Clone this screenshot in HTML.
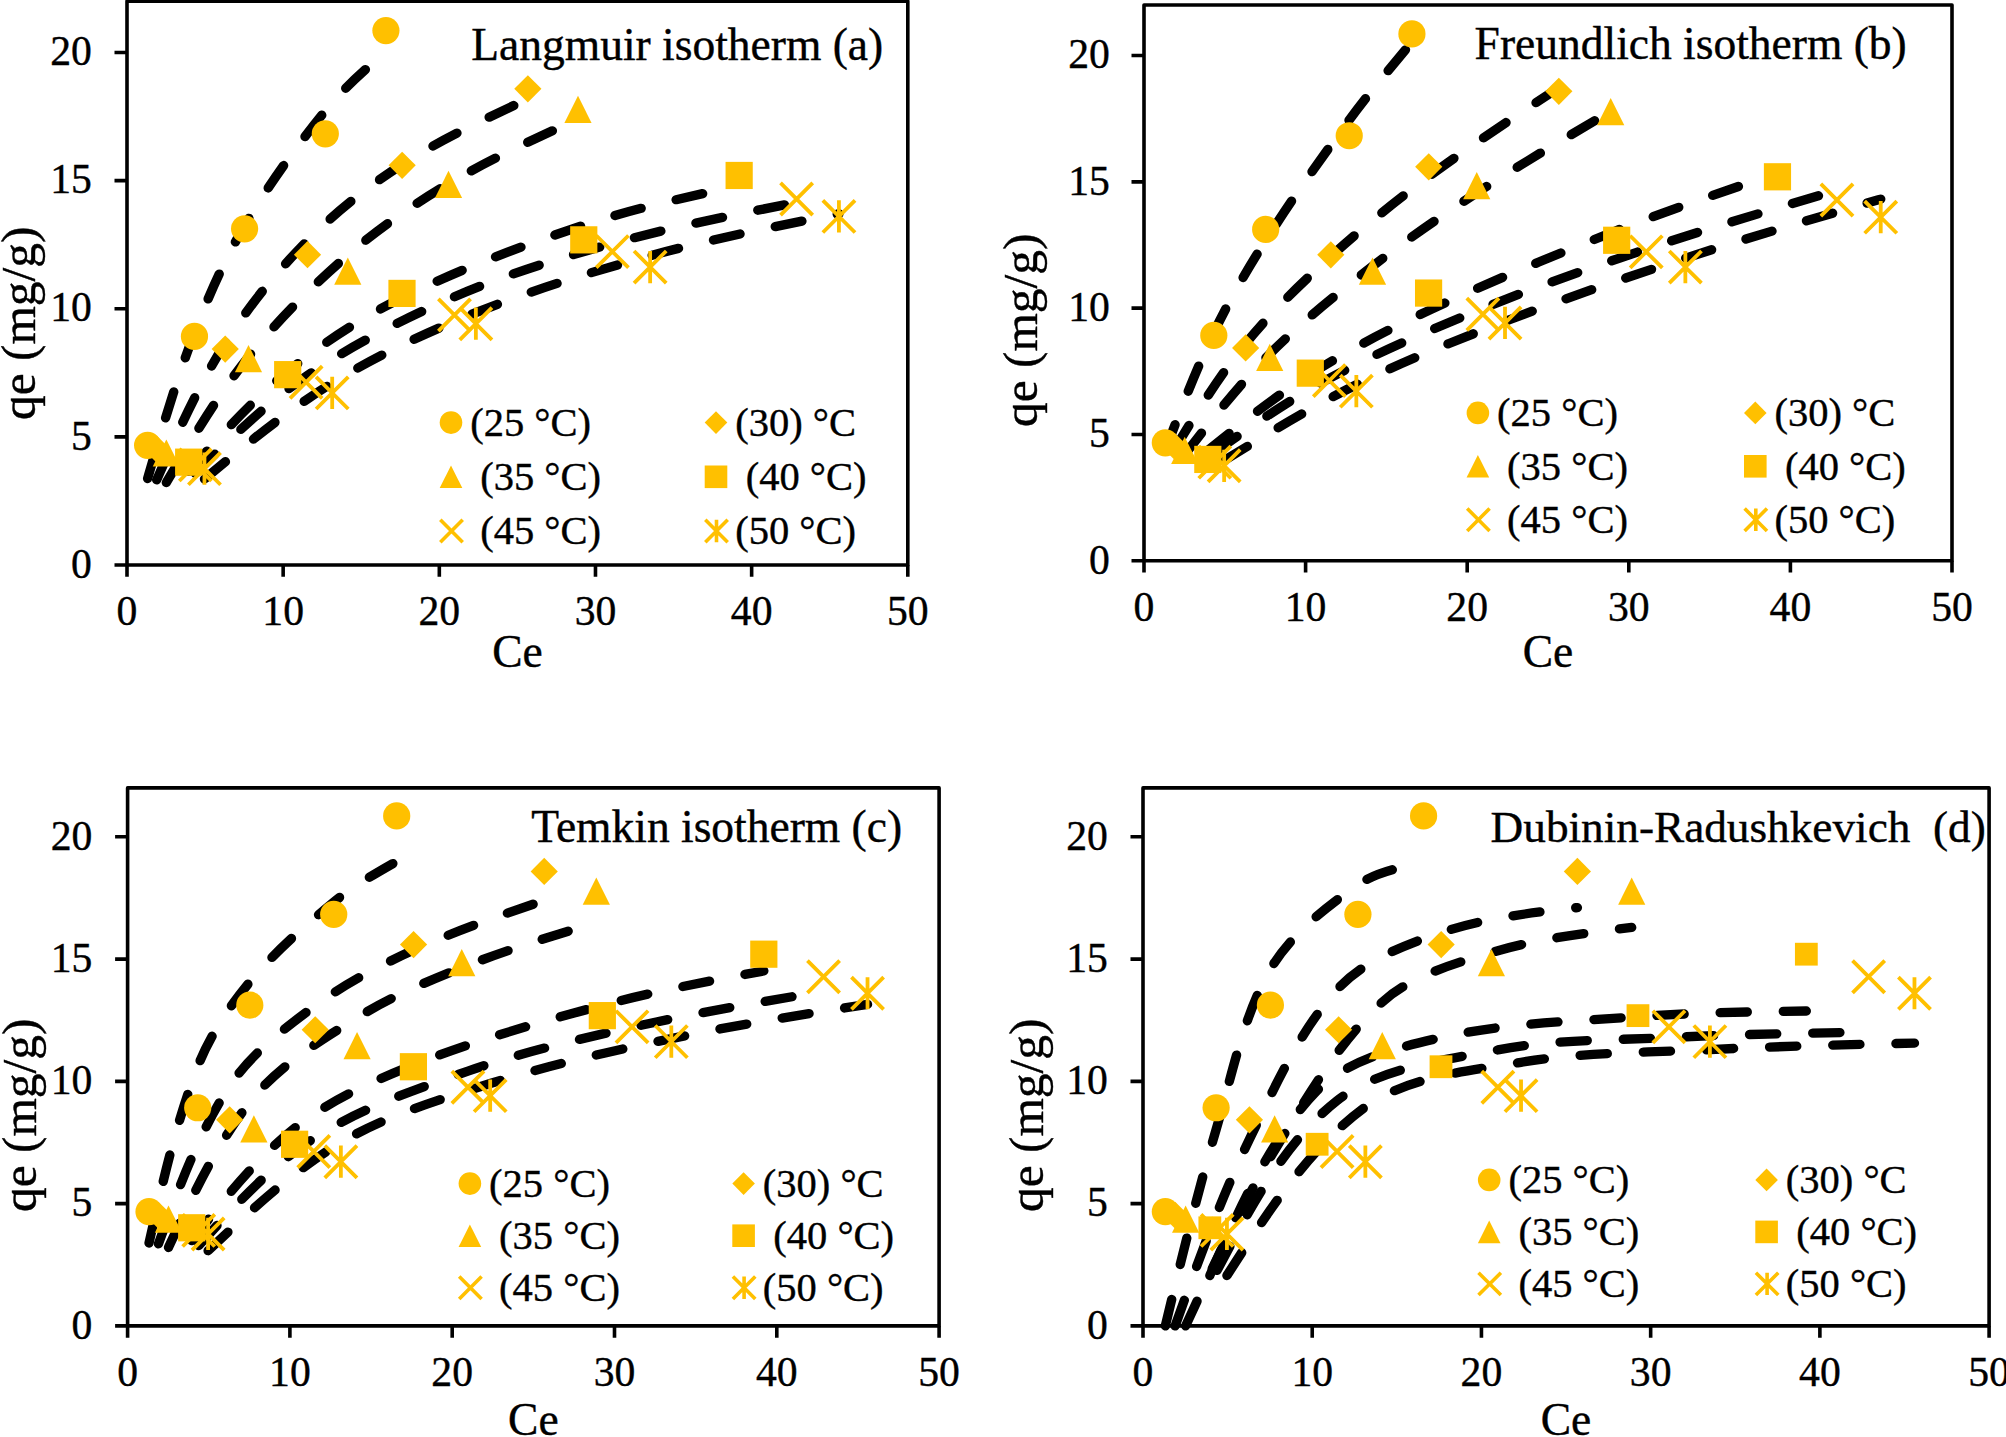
<!DOCTYPE html>
<html><head><meta charset="utf-8"><title>Adsorption isotherms</title>
<style>html,body{margin:0;padding:0;background:#fff}svg{display:block}text{font-family:"Liberation Serif","Times New Roman",serif;fill:#000;stroke:#000;stroke-width:0.4px}</style>
</head><body>
<svg width="2006" height="1437" viewBox="0 0 2006 1437">
<rect width="2006" height="1437" fill="#fff"/>
<g id="panel-a">
<g fill="none" stroke="#000" stroke-width="9.35" stroke-linecap="round" stroke-linejoin="round" stroke-dasharray="27.2 36.0">
<path d="M147.61 478.49C161.92 429.42 176.23 380.34 194.46 332.81C208.56 296.06 224.64 259.48 244.59 225.63C268.26 185.46 295.95 146.94 325.32 110.74C343.05 88.90 364.48 70.20 385.91 51.49"/>
<path d="M156.67 479.82C177.44 432.94 198.20 386.07 225.22 343.21C248.49 306.31 276.85 271.53 307.52 240.53C335.83 211.93 368.26 186.18 402.15 164.41C441.70 139.01 484.78 119.01 527.86 99.01"/>
<path d="M166.35 482.53C191.89 439.17 217.43 395.81 248.49 356.88C277.91 320.02 312.12 286.05 347.81 255.16C378.80 228.34 413.21 204.64 448.53 183.76C489.94 159.29 533.96 139.19 577.99 119.10"/>
<path d="M188.68 471.42C220.12 436.21 251.56 401.00 287.69 371.58C322.66 343.11 361.52 317.77 402.00 297.75C460.21 268.97 522.01 245.78 583.77 225.19C633.61 208.58 685.21 197.36 736.80 186.15"/>
<path d="M195.40 473.37C230.61 438.56 265.82 403.76 306.12 376.29C352.18 344.89 403.17 318.99 454.47 296.76C505.24 274.75 558.88 258.28 612.35 243.55C672.93 226.86 734.77 214.68 796.61 202.51"/>
<path d="M204.46 479.01C245.72 444.87 286.98 410.72 332.19 383.01C377.45 355.27 426.48 332.42 475.86 312.66C532.46 290.02 591.25 271.83 650.14 255.79C712.27 238.87 775.60 226.32 838.93 213.77"/>
</g>
<g fill="#FFC000">
<path d="M188.36 452.54L220.56 484.74M188.36 484.74L220.56 452.54M204.46 452.54L204.46 484.74" fill="none" stroke="#FFC000" stroke-width="3.80"/>
<path d="M316.09 376.81L348.29 409.01M316.09 409.01L348.29 376.81M332.19 376.81L332.19 409.01" fill="none" stroke="#FFC000" stroke-width="3.80"/>
<path d="M459.76 307.62L491.96 339.82M459.76 339.82L491.96 307.62M475.86 307.62L475.86 339.82" fill="none" stroke="#FFC000" stroke-width="3.80"/>
<path d="M634.04 250.98L666.24 283.18M634.04 283.18L666.24 250.98M650.14 250.98L650.14 283.18" fill="none" stroke="#FFC000" stroke-width="3.80"/>
<path d="M822.83 200.31L855.03 232.51M822.83 232.51L855.03 200.31M838.93 200.31L838.93 232.51" fill="none" stroke="#FFC000" stroke-width="3.80"/>
<path d="M179.30 448.83L211.50 481.03M179.30 481.03L211.50 448.83" fill="none" stroke="#FFC000" stroke-width="3.80"/>
<path d="M290.02 366.11L322.22 398.31M290.02 398.31L322.22 366.11" fill="none" stroke="#FFC000" stroke-width="3.80"/>
<path d="M438.37 298.84L470.57 331.04M438.37 331.04L470.57 298.84" fill="none" stroke="#FFC000" stroke-width="3.80"/>
<path d="M596.25 235.48L628.45 267.68M596.25 267.68L628.45 235.48" fill="none" stroke="#FFC000" stroke-width="3.80"/>
<path d="M780.51 182.94L812.71 215.14M780.51 215.14L812.71 182.94" fill="none" stroke="#FFC000" stroke-width="3.80"/>
<rect x="175.08" y="448.57" width="27.20" height="27.20"/>
<rect x="274.09" y="361.05" width="27.20" height="27.20"/>
<rect x="388.40" y="279.81" width="27.20" height="27.20"/>
<rect x="570.17" y="226.25" width="27.20" height="27.20"/>
<rect x="725.55" y="161.87" width="27.20" height="27.20"/>
<path d="M166.35 439.41L179.95 466.61L152.75 466.61Z"/>
<path d="M248.49 344.97L262.09 372.17L234.89 372.17Z"/>
<path d="M347.81 257.58L361.41 284.78L334.21 284.78Z"/>
<path d="M448.53 170.77L462.13 197.97L434.93 197.97Z"/>
<path d="M577.99 95.75L591.59 122.95L564.39 122.95Z"/>
<path d="M156.67 435.44L170.27 449.04L156.67 462.64L143.07 449.04Z"/>
<path d="M225.22 335.43L238.82 349.03L225.22 362.63L211.62 349.03Z"/>
<path d="M307.52 241.05L321.12 254.65L307.52 268.25L293.92 254.65Z"/>
<path d="M402.15 151.74L415.75 165.34L402.15 178.94L388.55 165.34Z"/>
<path d="M527.86 75.18L541.46 88.78L527.86 102.38L514.26 88.78Z"/>
<circle cx="147.61" cy="445.32" r="13.60"/>
<circle cx="194.46" cy="336.40" r="13.60"/>
<circle cx="244.59" cy="228.83" r="13.60"/>
<circle cx="325.32" cy="133.82" r="13.60"/>
<circle cx="385.91" cy="30.54" r="13.60"/>
</g>
<rect x="127.00" y="1.20" width="780.80" height="563.80" fill="none" stroke="#000" stroke-width="3.60" stroke-linejoin="round"/>
<path d="M114.50 565.00H127.00M114.50 436.86H127.00M114.50 308.73H127.00M114.50 180.59H127.00M114.50 52.45H127.00M127.00 565.00V576.80M283.16 565.00V576.80M439.32 565.00V576.80M595.48 565.00V576.80M751.64 565.00V576.80M907.80 565.00V576.80" fill="none" stroke="#000" stroke-width="3.60"/>
<g font-size="41.67" text-anchor="end">
<text x="91.80" y="577.70">0</text>
<text x="91.80" y="449.56">5</text>
<text x="91.80" y="321.43">10</text>
<text x="91.80" y="193.29">15</text>
<text x="91.80" y="65.15">20</text>
</g><g font-size="41.67" text-anchor="middle">
<text x="127.00" y="625.20">0</text>
<text x="283.16" y="625.20">10</text>
<text x="439.32" y="625.20">20</text>
<text x="595.48" y="625.20">30</text>
<text x="751.64" y="625.20">40</text>
<text x="907.80" y="625.20">50</text>
</g>
<text x="517.40" y="666.60" font-size="45.50" text-anchor="middle">Ce</text>
<text transform="translate(35.00 420.00) rotate(-90)" font-size="49.40">qe (mg/g)</text>
<text x="471.30" y="60.00" font-size="45.50" style="white-space:pre">Langmuir isotherm (a)</text>
<g fill="#FFC000">
<circle cx="451.00" cy="422.60" r="11.30"/>
<path d="M716.00 411.30L727.30 422.60L716.00 433.90L704.70 422.60Z"/>
<path d="M451.00 465.50L462.30 488.10L439.70 488.10Z"/>
<rect x="704.70" y="465.50" width="22.60" height="22.60"/>
<path d="M440.30 519.80L462.70 542.20M440.30 542.20L462.70 519.80" fill="none" stroke="#FFC000" stroke-width="3.60"/>
<path d="M705.30 519.80L727.70 542.20M705.30 542.20L727.70 519.80M716.50 519.80L716.50 542.20" fill="none" stroke="#FFC000" stroke-width="3.60"/>
</g><g font-size="40.50">
<text x="470.20" y="435.80">(25 °C)</text>
<text x="735.20" y="435.80">(30) °C</text>
<text x="480.20" y="490.00">(35 °C)</text>
<text x="745.70" y="490.00">(40 °C)</text>
<text x="480.20" y="544.20">(45 °C)</text>
<text x="735.20" y="544.20">(50 °C)</text>
</g></g>
<g id="panel-b">
<g fill="none" stroke="#000" stroke-width="9.35" stroke-linecap="round" stroke-linejoin="round" stroke-dasharray="27.2 36.0">
<path d="M1165.33 450.16C1180.44 410.47 1195.55 370.78 1213.81 332.62C1229.00 300.88 1246.77 270.17 1265.68 240.47C1291.91 199.31 1320.25 159.35 1349.23 120.05C1369.00 93.24 1390.47 67.69 1411.93 42.14"/>
<path d="M1174.70 448.70C1196.89 412.43 1219.09 376.16 1245.65 343.45C1271.12 312.08 1300.87 283.75 1330.81 256.46C1361.90 228.13 1394.91 201.61 1428.74 176.56C1470.91 145.34 1514.87 116.50 1558.83 87.66"/>
<path d="M1184.72 454.64C1211.77 419.80 1238.82 384.96 1269.72 353.96C1301.41 322.16 1336.99 293.87 1372.50 266.24C1406.00 240.17 1441.14 216.03 1476.73 192.88C1520.54 164.39 1565.62 137.86 1610.70 111.33"/>
<path d="M1207.83 450.32C1241.14 423.65 1274.45 396.98 1310.29 374.30C1348.03 350.41 1388.07 329.60 1428.58 310.61C1490.20 281.70 1553.31 255.55 1616.68 230.60C1669.60 209.76 1723.54 191.51 1777.47 173.26"/>
<path d="M1214.78 451.99C1252.10 425.85 1289.43 399.70 1329.36 378.33C1378.79 351.86 1430.86 329.70 1482.88 308.49C1536.49 286.63 1591.31 267.46 1646.25 249.12C1709.33 228.06 1773.13 209.19 1836.94 190.31"/>
<path d="M1224.15 460.60C1267.53 433.92 1310.90 407.24 1356.34 384.72C1404.52 360.85 1454.77 340.75 1505.01 321.43C1564.44 298.57 1624.80 277.90 1685.36 258.19C1750.04 237.13 1815.39 218.13 1880.73 199.12"/>
</g>
<g fill="#FFC000">
<path d="M1208.05 449.71L1240.25 481.91M1208.05 481.91L1240.25 449.71M1224.15 449.71L1224.15 481.91" fill="none" stroke="#FFC000" stroke-width="3.80"/>
<path d="M1340.24 375.05L1372.44 407.25M1340.24 407.25L1372.44 375.05M1356.34 375.05L1356.34 407.25" fill="none" stroke="#FFC000" stroke-width="3.80"/>
<path d="M1488.91 306.84L1521.11 339.04M1488.91 339.04L1521.11 306.84M1505.01 306.84L1505.01 339.04" fill="none" stroke="#FFC000" stroke-width="3.80"/>
<path d="M1669.26 251.01L1701.46 283.21M1669.26 283.21L1701.46 251.01M1685.36 251.01L1685.36 283.21" fill="none" stroke="#FFC000" stroke-width="3.80"/>
<path d="M1864.63 201.05L1896.83 233.25M1864.63 233.25L1896.83 201.05M1880.73 201.05L1880.73 233.25" fill="none" stroke="#FFC000" stroke-width="3.80"/>
<path d="M1198.68 446.05L1230.88 478.25M1198.68 478.25L1230.88 446.05" fill="none" stroke="#FFC000" stroke-width="3.80"/>
<path d="M1313.26 364.51L1345.46 396.71M1313.26 396.71L1345.46 364.51" fill="none" stroke="#FFC000" stroke-width="3.80"/>
<path d="M1466.78 298.19L1498.98 330.39M1466.78 330.39L1498.98 298.19" fill="none" stroke="#FFC000" stroke-width="3.80"/>
<path d="M1630.15 235.73L1662.35 267.93M1630.15 267.93L1662.35 235.73" fill="none" stroke="#FFC000" stroke-width="3.80"/>
<path d="M1820.84 183.94L1853.04 216.14M1820.84 216.14L1853.04 183.94" fill="none" stroke="#FFC000" stroke-width="3.80"/>
<rect x="1194.23" y="445.83" width="27.20" height="27.20"/>
<rect x="1296.69" y="359.55" width="27.20" height="27.20"/>
<rect x="1414.98" y="279.47" width="27.20" height="27.20"/>
<rect x="1603.08" y="226.67" width="27.20" height="27.20"/>
<rect x="1763.87" y="163.19" width="27.20" height="27.20"/>
<path d="M1184.72 436.80L1198.32 464.00L1171.12 464.00Z"/>
<path d="M1269.72 343.70L1283.32 370.90L1256.12 370.90Z"/>
<path d="M1372.50 257.55L1386.10 284.75L1358.90 284.75Z"/>
<path d="M1476.73 171.97L1490.33 199.17L1463.13 199.17Z"/>
<path d="M1610.70 98.01L1624.30 125.21L1597.10 125.21Z"/>
<path d="M1174.70 432.88L1188.30 446.48L1174.70 460.08L1161.10 446.48Z"/>
<path d="M1245.65 334.29L1259.25 347.89L1245.65 361.49L1232.05 347.89Z"/>
<path d="M1330.81 241.26L1344.41 254.86L1330.81 268.46L1317.21 254.86Z"/>
<path d="M1428.74 153.21L1442.34 166.81L1428.74 180.41L1415.14 166.81Z"/>
<path d="M1558.83 77.74L1572.43 91.34L1558.83 104.94L1545.23 91.34Z"/>
<circle cx="1165.33" cy="442.82" r="13.60"/>
<circle cx="1213.81" cy="335.45" r="13.60"/>
<circle cx="1265.68" cy="229.40" r="13.60"/>
<circle cx="1349.23" cy="135.74" r="13.60"/>
<circle cx="1411.93" cy="33.93" r="13.60"/>
</g>
<rect x="1144.00" y="5.00" width="808.00" height="555.80" fill="none" stroke="#000" stroke-width="3.60" stroke-linejoin="round"/>
<path d="M1131.50 560.80H1144.00M1131.50 434.48H1144.00M1131.50 308.16H1144.00M1131.50 181.85H1144.00M1131.50 55.53H1144.00M1144.00 560.80V572.60M1305.60 560.80V572.60M1467.20 560.80V572.60M1628.80 560.80V572.60M1790.40 560.80V572.60M1952.00 560.80V572.60" fill="none" stroke="#000" stroke-width="3.60"/>
<g font-size="41.67" text-anchor="end">
<text x="1109.80" y="573.50">0</text>
<text x="1109.80" y="447.18">5</text>
<text x="1109.80" y="320.86">10</text>
<text x="1109.80" y="194.55">15</text>
<text x="1109.80" y="68.23">20</text>
</g><g font-size="41.67" text-anchor="middle">
<text x="1144.00" y="621.00">0</text>
<text x="1305.60" y="621.00">10</text>
<text x="1467.20" y="621.00">20</text>
<text x="1628.80" y="621.00">30</text>
<text x="1790.40" y="621.00">40</text>
<text x="1952.00" y="621.00">50</text>
</g>
<text x="1548.00" y="666.60" font-size="45.50" text-anchor="middle">Ce</text>
<text transform="translate(1036.70 427.00) rotate(-90)" font-size="49.40">qe (mg/g)</text>
<text x="1474.60" y="58.60" font-size="45.50" style="white-space:pre">Freundlich isotherm (b)</text>
<g fill="#FFC000">
<circle cx="1477.90" cy="412.90" r="11.30"/>
<path d="M1755.30 401.60L1766.60 412.90L1755.30 424.20L1744.00 412.90Z"/>
<path d="M1477.90 455.00L1489.20 477.60L1466.60 477.60Z"/>
<rect x="1744.00" y="455.00" width="22.60" height="22.60"/>
<path d="M1467.20 508.50L1489.60 530.90M1467.20 530.90L1489.60 508.50" fill="none" stroke="#FFC000" stroke-width="3.60"/>
<path d="M1744.60 508.50L1767.00 530.90M1744.60 530.90L1767.00 508.50M1755.80 508.50L1755.80 530.90" fill="none" stroke="#FFC000" stroke-width="3.60"/>
</g><g font-size="40.50">
<text x="1497.10" y="426.10">(25 °C)</text>
<text x="1774.50" y="426.10">(30) °C</text>
<text x="1507.10" y="479.50">(35 °C)</text>
<text x="1785.00" y="479.50">(40 °C)</text>
<text x="1507.10" y="532.90">(45 °C)</text>
<text x="1774.50" y="532.90">(50 °C)</text>
</g></g>
<g id="panel-c">
<g fill="none" stroke="#000" stroke-width="9.35" stroke-linecap="round" stroke-linejoin="round" stroke-dasharray="27.2 36.0">
<path d="M149.02 1243.00C162.49 1183.03 175.96 1123.06 197.71 1066.69C209.55 1036.02 228.85 1007.24 249.81 981.87C274.19 952.37 304.00 926.46 333.72 902.09C352.96 886.30 374.83 873.85 396.69 861.39"/>
<path d="M158.44 1243.88C178.48 1188.59 198.53 1133.31 229.69 1085.97C250.79 1053.91 284.00 1028.76 315.22 1005.69C345.29 983.47 379.45 965.77 413.57 950.09C455.78 930.70 500.00 915.58 544.22 900.46"/>
<path d="M168.50 1247.46C193.27 1194.21 218.04 1140.95 253.87 1097.30C280.90 1064.37 320.43 1040.58 357.09 1017.72C389.73 997.37 425.90 981.93 461.78 967.66C505.64 950.22 550.98 936.41 596.32 922.59"/>
<path d="M191.71 1240.65C223.53 1199.94 255.35 1159.23 294.61 1128.12C329.25 1100.67 371.92 1081.53 413.41 1064.97C474.50 1040.60 538.62 1022.44 602.33 1005.34C655.42 991.09 709.62 981.01 763.82 970.93"/>
<path d="M198.69 1245.64C234.54 1206.06 270.38 1166.48 313.76 1138.36C360.13 1108.30 415.15 1089.55 467.94 1071.12C521.24 1052.52 576.82 1039.65 632.03 1027.28C695.36 1013.08 759.45 1002.24 823.54 991.41"/>
<path d="M208.10 1250.70C250.21 1210.99 292.33 1171.27 340.86 1142.51C386.35 1115.56 439.25 1099.60 490.18 1083.58C549.39 1064.95 610.46 1051.36 671.31 1038.59C736.24 1024.95 801.88 1014.66 867.53 1004.37"/>
</g>
<g fill="#FFC000">
<path d="M192.00 1217.85L224.20 1250.05M192.00 1250.05L224.20 1217.85M208.10 1217.85L208.10 1250.05" fill="none" stroke="#FFC000" stroke-width="3.80"/>
<path d="M324.76 1145.59L356.96 1177.79M324.76 1177.79L356.96 1145.59M340.86 1145.59L340.86 1177.79" fill="none" stroke="#FFC000" stroke-width="3.80"/>
<path d="M474.08 1079.56L506.28 1111.76M474.08 1111.76L506.28 1079.56M490.18 1079.56L490.18 1111.76" fill="none" stroke="#FFC000" stroke-width="3.80"/>
<path d="M655.21 1025.52L687.41 1057.72M655.21 1057.72L687.41 1025.52M671.31 1025.52L671.31 1057.72" fill="none" stroke="#FFC000" stroke-width="3.80"/>
<path d="M851.43 977.16L883.63 1009.36M851.43 1009.36L883.63 977.16M867.53 977.16L867.53 1009.36" fill="none" stroke="#FFC000" stroke-width="3.80"/>
<path d="M182.59 1214.31L214.79 1246.50M182.59 1246.50L214.79 1214.31" fill="none" stroke="#FFC000" stroke-width="3.80"/>
<path d="M297.66 1135.38L329.86 1167.58M297.66 1167.58L329.86 1135.38" fill="none" stroke="#FFC000" stroke-width="3.80"/>
<path d="M451.84 1071.18L484.04 1103.38M451.84 1103.38L484.04 1071.18" fill="none" stroke="#FFC000" stroke-width="3.80"/>
<path d="M615.93 1010.72L648.13 1042.92M615.93 1042.92L648.13 1010.72" fill="none" stroke="#FFC000" stroke-width="3.80"/>
<path d="M807.44 960.59L839.64 992.79M807.44 992.79L839.64 960.59" fill="none" stroke="#FFC000" stroke-width="3.80"/>
<rect x="178.11" y="1214.18" width="27.20" height="27.20"/>
<rect x="281.01" y="1130.66" width="27.20" height="27.20"/>
<rect x="399.81" y="1053.14" width="27.20" height="27.20"/>
<rect x="588.73" y="1002.03" width="27.20" height="27.20"/>
<rect x="750.22" y="940.59" width="27.20" height="27.20"/>
<path d="M168.50 1205.43L182.10 1232.63L154.90 1232.63Z"/>
<path d="M253.87 1115.32L267.47 1142.52L240.27 1142.52Z"/>
<path d="M357.09 1031.93L370.69 1059.13L343.49 1059.13Z"/>
<path d="M461.78 949.09L475.38 976.29L448.18 976.29Z"/>
<path d="M596.32 877.50L609.92 904.70L582.72 904.70Z"/>
<path d="M158.44 1201.64L172.04 1215.24L158.44 1228.84L144.84 1215.24Z"/>
<path d="M229.69 1106.21L243.29 1119.81L229.69 1133.41L216.09 1119.81Z"/>
<path d="M315.22 1016.16L328.82 1029.76L315.22 1043.36L301.62 1029.76Z"/>
<path d="M413.57 930.93L427.17 944.53L413.57 958.13L399.97 944.53Z"/>
<path d="M544.22 857.87L557.82 871.47L544.22 885.07L530.62 871.47Z"/>
<circle cx="149.02" cy="1211.70" r="13.60"/>
<circle cx="197.71" cy="1107.77" r="13.60"/>
<circle cx="249.81" cy="1005.12" r="13.60"/>
<circle cx="333.72" cy="914.45" r="13.60"/>
<circle cx="396.69" cy="815.90" r="13.60"/>
</g>
<rect x="127.60" y="787.90" width="811.50" height="538.00" fill="none" stroke="#000" stroke-width="3.60" stroke-linejoin="round"/>
<path d="M115.10 1325.90H127.60M115.10 1203.63H127.60M115.10 1081.35H127.60M115.10 959.08H127.60M115.10 836.81H127.60M127.60 1325.90V1337.70M289.90 1325.90V1337.70M452.20 1325.90V1337.70M614.50 1325.90V1337.70M776.80 1325.90V1337.70M939.10 1325.90V1337.70" fill="none" stroke="#000" stroke-width="3.60"/>
<g font-size="41.67" text-anchor="end">
<text x="92.40" y="1338.60">0</text>
<text x="92.40" y="1216.33">5</text>
<text x="92.40" y="1094.05">10</text>
<text x="92.40" y="971.78">15</text>
<text x="92.40" y="849.51">20</text>
</g><g font-size="41.67" text-anchor="middle">
<text x="127.60" y="1386.10">0</text>
<text x="289.90" y="1386.10">10</text>
<text x="452.20" y="1386.10">20</text>
<text x="614.50" y="1386.10">30</text>
<text x="776.80" y="1386.10">40</text>
<text x="939.10" y="1386.10">50</text>
</g>
<text x="533.35" y="1434.60" font-size="45.50" text-anchor="middle">Ce</text>
<text transform="translate(36.00 1212.00) rotate(-90)" font-size="49.40">qe (mg/g)</text>
<text x="531.30" y="842.30" font-size="45.50" style="white-space:pre">Temkin isotherm (c)</text>
<g fill="#FFC000">
<circle cx="469.90" cy="1183.60" r="11.30"/>
<path d="M743.60 1172.30L754.90 1183.60L743.60 1194.90L732.30 1183.60Z"/>
<path d="M469.90 1224.40L481.20 1247.00L458.60 1247.00Z"/>
<rect x="732.30" y="1224.40" width="22.60" height="22.60"/>
<path d="M459.20 1276.60L481.60 1299.00M459.20 1299.00L481.60 1276.60" fill="none" stroke="#FFC000" stroke-width="3.60"/>
<path d="M732.90 1276.60L755.30 1299.00M732.90 1299.00L755.30 1276.60M744.10 1276.60L744.10 1299.00" fill="none" stroke="#FFC000" stroke-width="3.60"/>
</g><g font-size="40.50">
<text x="489.10" y="1196.80">(25 °C)</text>
<text x="762.80" y="1196.80">(30) °C</text>
<text x="499.10" y="1248.90">(35 °C)</text>
<text x="773.30" y="1248.90">(40 °C)</text>
<text x="499.10" y="1301.00">(45 °C)</text>
<text x="762.80" y="1301.00">(50 °C)</text>
</g></g>
<g id="panel-d">
<g fill="none" stroke="#000" stroke-width="9.35" stroke-linecap="round" stroke-linejoin="round" stroke-dasharray="27.2 36.0">
<path d="M1165.34 1325.90C1181.18 1260.15 1197.01 1194.41 1216.10 1129.63C1232.04 1075.53 1242.91 1016.77 1270.42 969.28C1290.18 935.17 1325.39 907.45 1357.91 884.84C1376.44 871.95 1400.00 867.37 1423.57 862.78"/>
<path d="M1175.15 1325.90C1197.76 1262.64 1220.36 1199.38 1249.44 1139.29C1274.85 1086.76 1300.21 1029.46 1338.62 988.06C1364.12 960.57 1404.79 944.86 1441.17 932.60C1484.38 918.03 1530.88 912.81 1577.39 907.58"/>
<path d="M1185.64 1325.90C1213.17 1266.04 1240.69 1206.19 1274.65 1150.27C1306.24 1098.26 1338.61 1041.94 1382.28 1002.10C1410.86 976.02 1453.44 963.87 1491.42 952.50C1536.58 938.99 1584.14 933.21 1631.71 927.44"/>
<path d="M1209.84 1275.52C1239.85 1207.39 1269.86 1139.25 1317.13 1090.60C1346.91 1059.94 1397.70 1047.55 1441.00 1037.58C1504.65 1022.92 1572.16 1021.48 1637.97 1016.70C1693.94 1012.63 1750.14 1011.83 1806.34 1011.02"/>
<path d="M1217.12 1270.39C1251.27 1205.78 1285.41 1141.17 1337.10 1100.58C1378.99 1067.67 1443.03 1060.32 1497.85 1049.91C1553.64 1039.31 1611.84 1040.28 1668.94 1037.53C1735.43 1034.33 1802.02 1033.21 1868.62 1032.08"/>
<path d="M1226.93 1275.52C1268.01 1211.63 1309.09 1147.73 1365.36 1106.93C1407.13 1076.65 1468.08 1071.10 1521.04 1062.28C1582.93 1051.97 1646.88 1052.63 1709.89 1049.56C1778.02 1046.24 1846.25 1044.68 1914.47 1043.11"/>
</g>
<g fill="#FFC000">
<path d="M1210.83 1217.85L1243.03 1250.05M1210.83 1250.05L1243.03 1217.85M1226.93 1217.85L1226.93 1250.05" fill="none" stroke="#FFC000" stroke-width="3.80"/>
<path d="M1349.26 1145.59L1381.46 1177.79M1349.26 1177.79L1381.46 1145.59M1365.36 1145.59L1365.36 1177.79" fill="none" stroke="#FFC000" stroke-width="3.80"/>
<path d="M1504.94 1079.56L1537.14 1111.76M1504.94 1111.76L1537.14 1079.56M1521.04 1079.56L1521.04 1111.76" fill="none" stroke="#FFC000" stroke-width="3.80"/>
<path d="M1693.79 1025.52L1725.99 1057.72M1693.79 1057.72L1725.99 1025.52M1709.89 1025.52L1709.89 1057.72" fill="none" stroke="#FFC000" stroke-width="3.80"/>
<path d="M1898.37 977.16L1930.57 1009.36M1898.37 1009.36L1930.57 977.16M1914.47 977.16L1914.47 1009.36" fill="none" stroke="#FFC000" stroke-width="3.80"/>
<path d="M1201.02 1214.31L1233.22 1246.50M1201.02 1246.50L1233.22 1214.31" fill="none" stroke="#FFC000" stroke-width="3.80"/>
<path d="M1321.00 1135.38L1353.20 1167.58M1321.00 1167.58L1353.20 1135.38" fill="none" stroke="#FFC000" stroke-width="3.80"/>
<path d="M1481.75 1071.18L1513.95 1103.38M1481.75 1103.38L1513.95 1071.18" fill="none" stroke="#FFC000" stroke-width="3.80"/>
<path d="M1652.84 1010.72L1685.04 1042.92M1652.84 1042.92L1685.04 1010.72" fill="none" stroke="#FFC000" stroke-width="3.80"/>
<path d="M1852.52 960.59L1884.72 992.79M1852.52 992.79L1884.72 960.59" fill="none" stroke="#FFC000" stroke-width="3.80"/>
<rect x="1198.44" y="1216.38" width="22.80" height="22.80"/>
<rect x="1305.73" y="1132.86" width="22.80" height="22.80"/>
<rect x="1429.60" y="1055.34" width="22.80" height="22.80"/>
<rect x="1626.57" y="1004.23" width="22.80" height="22.80"/>
<rect x="1794.94" y="942.79" width="22.80" height="22.80"/>
<path d="M1185.64 1205.43L1199.24 1232.63L1172.04 1232.63Z"/>
<path d="M1274.65 1115.32L1288.25 1142.52L1261.05 1142.52Z"/>
<path d="M1382.28 1031.93L1395.88 1059.13L1368.68 1059.13Z"/>
<path d="M1491.42 949.09L1505.02 976.29L1477.82 976.29Z"/>
<path d="M1631.71 877.50L1645.31 904.70L1618.11 904.70Z"/>
<path d="M1175.15 1201.64L1188.75 1215.24L1175.15 1228.84L1161.55 1215.24Z"/>
<path d="M1249.44 1106.21L1263.04 1119.81L1249.44 1133.41L1235.84 1119.81Z"/>
<path d="M1338.62 1016.16L1352.22 1029.76L1338.62 1043.36L1325.02 1029.76Z"/>
<path d="M1441.17 930.93L1454.77 944.53L1441.17 958.13L1427.57 944.53Z"/>
<path d="M1577.39 857.87L1590.99 871.47L1577.39 885.07L1563.79 871.47Z"/>
<circle cx="1165.34" cy="1211.70" r="13.60"/>
<circle cx="1216.10" cy="1107.77" r="13.60"/>
<circle cx="1270.42" cy="1005.12" r="13.60"/>
<circle cx="1357.91" cy="914.45" r="13.60"/>
<circle cx="1423.57" cy="815.90" r="13.60"/>
</g>
<rect x="1143.00" y="787.90" width="846.10" height="538.00" fill="none" stroke="#000" stroke-width="3.60" stroke-linejoin="round"/>
<path d="M1130.50 1325.90H1143.00M1130.50 1203.63H1143.00M1130.50 1081.35H1143.00M1130.50 959.08H1143.00M1130.50 836.81H1143.00M1143.00 1325.90V1337.70M1312.22 1325.90V1337.70M1481.44 1325.90V1337.70M1650.66 1325.90V1337.70M1819.88 1325.90V1337.70M1989.10 1325.90V1337.70" fill="none" stroke="#000" stroke-width="3.60"/>
<g font-size="41.67" text-anchor="end">
<text x="1107.80" y="1338.60">0</text>
<text x="1107.80" y="1216.33">5</text>
<text x="1107.80" y="1094.05">10</text>
<text x="1107.80" y="971.78">15</text>
<text x="1107.80" y="849.51">20</text>
</g><g font-size="41.67" text-anchor="middle">
<text x="1143.00" y="1386.10">0</text>
<text x="1312.22" y="1386.10">10</text>
<text x="1481.44" y="1386.10">20</text>
<text x="1650.66" y="1386.10">30</text>
<text x="1819.88" y="1386.10">40</text>
<text x="1989.10" y="1386.10">50</text>
</g>
<text x="1566.05" y="1434.60" font-size="45.50" text-anchor="middle">Ce</text>
<text transform="translate(1043.00 1212.00) rotate(-90)" font-size="49.40">qe (mg/g)</text>
<text x="1490.60" y="841.50" font-size="45.25" style="white-space:pre">Dubinin-Radushkevich  (d)</text>
<g fill="#FFC000">
<circle cx="1489.20" cy="1179.90" r="11.30"/>
<path d="M1766.60 1168.60L1777.90 1179.90L1766.60 1191.20L1755.30 1179.90Z"/>
<path d="M1489.20 1220.60L1500.50 1243.20L1477.90 1243.20Z"/>
<rect x="1755.30" y="1220.60" width="22.60" height="22.60"/>
<path d="M1478.50 1272.70L1500.90 1295.10M1478.50 1295.10L1500.90 1272.70" fill="none" stroke="#FFC000" stroke-width="3.60"/>
<path d="M1755.90 1272.70L1778.30 1295.10M1755.90 1295.10L1778.30 1272.70M1767.10 1272.70L1767.10 1295.10" fill="none" stroke="#FFC000" stroke-width="3.60"/>
</g><g font-size="40.50">
<text x="1508.40" y="1192.90">(25 °C)</text>
<text x="1785.80" y="1192.90">(30) °C</text>
<text x="1518.40" y="1244.90">(35 °C)</text>
<text x="1796.30" y="1244.90">(40 °C)</text>
<text x="1518.40" y="1296.90">(45 °C)</text>
<text x="1785.80" y="1296.90">(50 °C)</text>
</g></g>
</svg>
</body></html>
